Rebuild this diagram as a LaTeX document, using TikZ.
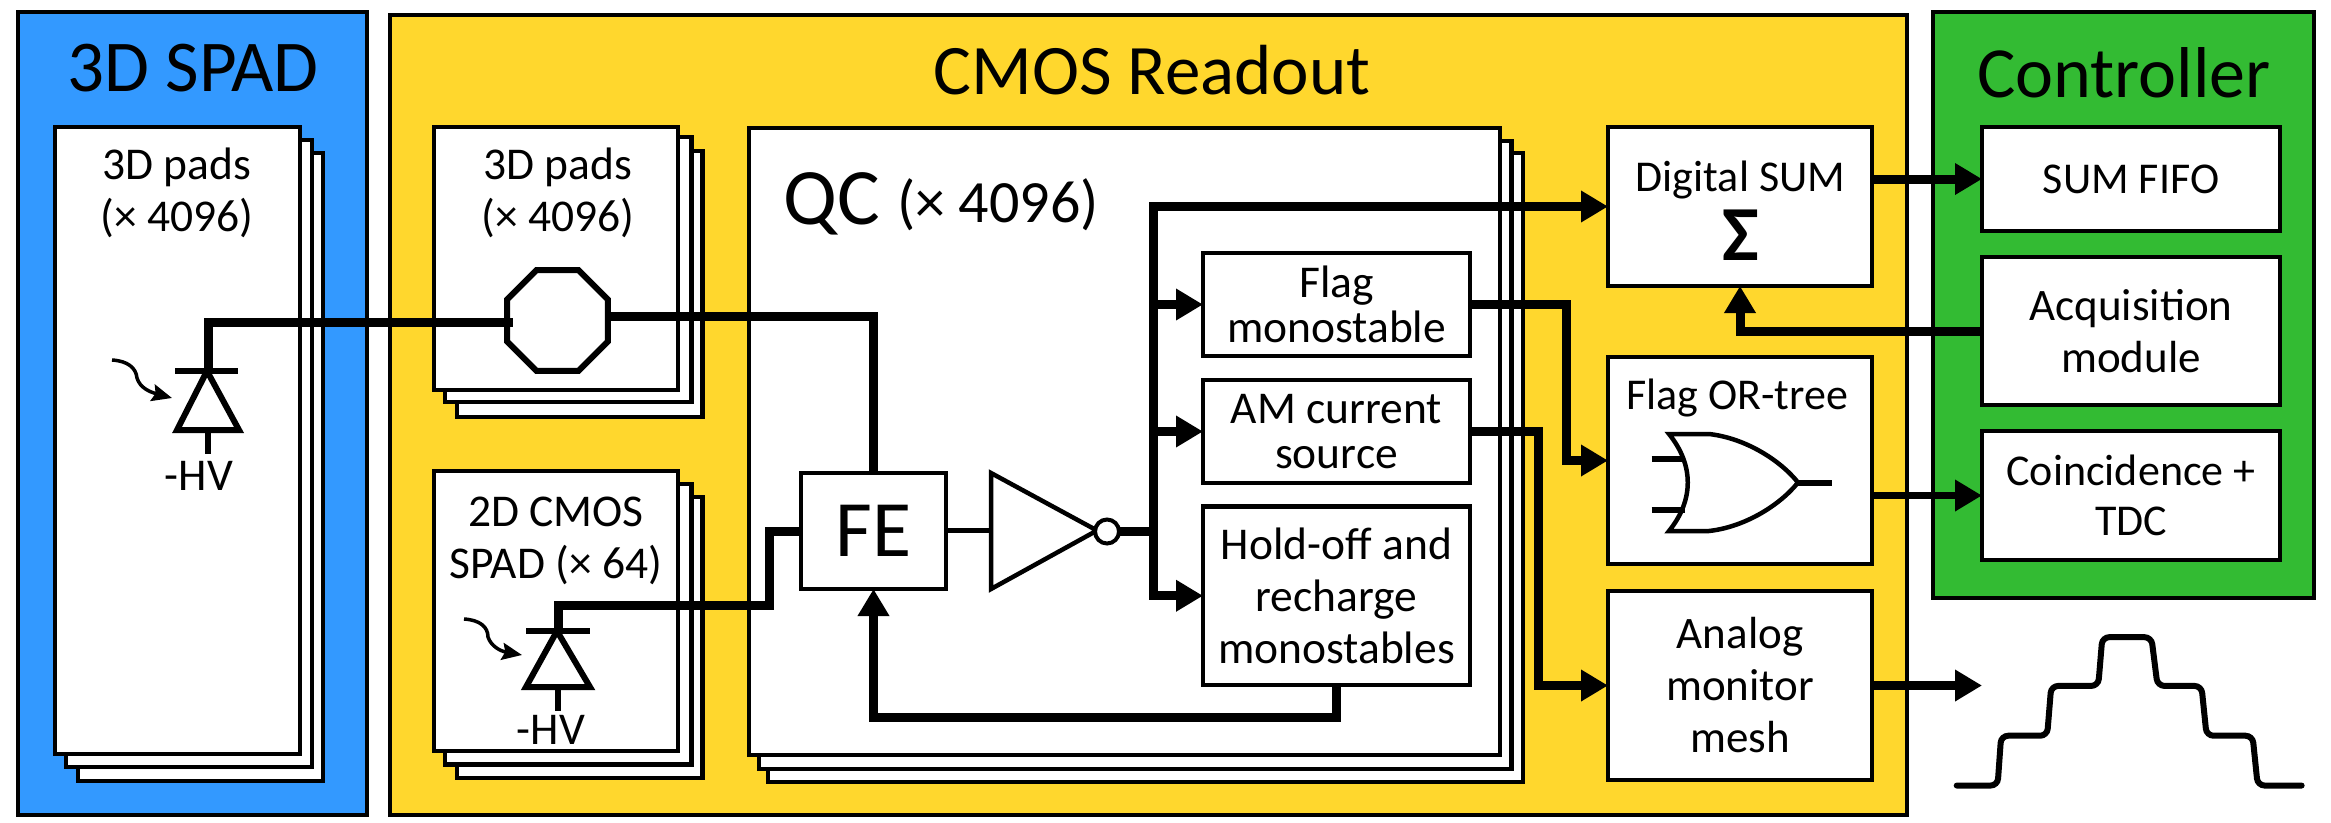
\documentclass[tikz,border=0pt]{standalone}
\usepackage{fontspec}
\setmainfont{Carlito}
\usetikzlibrary{arrows.meta,shapes.geometric,calc}
\definecolor{bluep}{HTML}{3399FF}
\definecolor{yellowp}{HTML}{FFD72D}
\definecolor{greenp}{HTML}{33BB33}
\tikzset{
  panel/.style={draw=black,line width=4pt,inner sep=0,outer sep=0},
  box/.style={draw=black,fill=white,line width=4.5pt,inner sep=0,outer sep=0,align=center,
    font=\fontsize{45}{52}\selectfont},
  tight/.style={font=\fontsize{45.5}{45}\selectfont},
  title/.style={inner sep=0,font=\fontsize{71}{74}\selectfont},
  lab/.style={inner sep=0,align=center,font=\fontsize{45.5}{52}\selectfont},
  wire/.style={draw=black,line width=9pt},
  thin wire/.style={draw=black,line width=7.5pt},
  arw/.style={wire,-{Triangle[length=27pt,width=30pt]}},
  shape line/.style={draw=black,line width=6pt},
  logic/.style={draw=black,line width=4.5pt},
  photon/.style={draw=black,line width=3.5pt,-{Stealth[length=20pt,width=17pt,inset=3pt]}},
}
\newcommand\rectnode[6][]{\node[box,#1,minimum width={#5-#3},minimum height={#6-#4}] (#2) at ({(#3+#5)/2},{(#4+#6)/2}) {};}
\newcommand\textbox[7][]{\node[box,#1,minimum width={#5-#3},minimum height={#6-#4}] (#2) at ({(#3+#5)/2},{(#4+#6)/2}) {#7};}
\begin{document}
\begin{tikzpicture}[x=1pt,y=-1pt]
\useasboundingbox (0,0) rectangle (2331,822);
% panels
\node[panel,fill=bluep,minimum width=349,minimum height=803.5] (spad) at (192.5,413.5) {};
\node[panel,fill=yellowp,minimum width=1517,minimum height=800] (cmos) at (1148.5,415) {};
\node[panel,fill=greenp,minimum width=381,minimum height=586.5] (ctrl) at (2123.5,305) {};
\node[title,font=\fontsize{73}{74}\selectfont] (tspad) at (193,68) {3D SPAD};
\node[title] (tcmos) at (1152,70) {CMOS Readout};
\node[title,font=\fontsize{72}{74}\selectfont] (tctrl) at (2124,73) {Controller};
% stacks
\rectnode{sc}{78}{153}{323}{781}
\rectnode{sb}{66}{140}{312}{767}
\rectnode{sa}{55}{127}{300}{754}
\rectnode{pc}{457}{151}{702.5}{417}
\rectnode{pb}{445}{137}{691.5}{402}
\rectnode{pa}{434}{127}{678}{390}
\rectnode{dc}{457}{497}{702.5}{778}
\rectnode{db}{445}{484}{691.5}{764.5}
\rectnode{da}{434}{471}{678}{751}
\rectnode{qc}{768}{153}{1523}{782}
\rectnode{qb}{759}{141}{1511.5}{769}
\rectnode{qa}{749}{128}{1500}{755}
\node[lab] (lsa) at (177,193) {3D pads\\(× 4096)};
\node[lab] (lpa) at (558,193) {3D pads\\(× 4096)};
\node[lab] (lda) at (556,541) {2D CMOS\\SPAD (× 64)};
\node[inner sep=0,anchor=base west,font=\fontsize{80}{82}\selectfont] (lqc) at (783,224) {QC};
\node[inner sep=0,anchor=base west,font=\fontsize{60}{62}\selectfont] (lqn) at (897,222) {(× 4096)};
% QC blocks
\textbox[font=\fontsize{80}{82}\selectfont]{fe}{801}{473}{946}{589}{FE}
\textbox[tight]{flag}{1203}{253}{1470}{356}{Flag\\monostable}
\textbox[tight]{am}{1203}{380}{1470}{483}{AM current\\source}
\textbox[font=\fontsize{45.5}{52}\selectfont]{hold}{1203}{506.5}{1470}{685}{Hold-off and\\recharge\\monostables}
% right blocks
\rectnode{dig}{1608}{127}{1872}{286}
\node[lab,font=\fontsize{44}{52}\selectfont] (ldig) at (1740.5,180) {Digital SUM};
\node[lab,font=\bfseries\fontsize{78}{80}\selectfont] (lsig) at (1740.5,235) {Σ};
\rectnode{orb}{1608}{357}{1872}{564}
\node[lab,font=\fontsize{44}{52}\selectfont] (lor) at (1737,398) {Flag OR-tree};
\textbox{ana}{1608}{591}{1872}{780}{Analog\\monitor\\mesh}
\textbox[font=\fontsize{44}{52}\selectfont]{fifo}{1982}{127}{2280}{231}{SUM FIFO}
\textbox{acq}{1982}{257}{2280}{405}{Acquisition\\module}
\textbox[font=\fontsize{44}{50}\selectfont]{coin}{1982}{431}{2280}{560}{Coincidence +\\TDC}
% octagon
\node[regular polygon,regular polygon sides=8,minimum size=109.3,draw=black,fill=white,line width=6pt,inner sep=0,outer sep=0] (oct) at (557.5,320.5) {};
% inverter
\coordinate (invin) at (991,530.5);
\draw[logic,fill=white] (991,473) -- (1097,530.5) -- (991,589) -- cycle;
\node[circle,draw=black,fill=white,line width=4pt,minimum size=24,inner sep=0,outer sep=0] (bub) at (1107,531.5) {};
\draw[logic] (fe.east |- invin) -- (invin);
% coordinates
\coordinate (d1a) at (208,371);
\coordinate (d2a) at (558,631);
\coordinate (padin) at (513,322.5);
\coordinate (padout) at (611,316);
\coordinate (d2j) at (769,605);
\coordinate (bus) at (1153,531.5);
\coordinate (fbk) at (0,717);
\coordinate (xf) at (1566,460.5);
\coordinate (xa) at (1538,685.5);
\coordinate (wave) at (1982,685.5);
% diodes
\draw[shape line] (175,371) -- (238,371);
\draw[shape line] (207,371) -- (239,430) -- (177,430) -- cycle;
\draw[shape line] (208,430) -- (208,453.5);
\node[lab] (hv1) at (199,476) {-HV};
\draw[photon] (112,360) .. controls (128,361) and (136,368) .. (137,378) .. controls (140,388) and (150,392) .. (172,398);
\draw[shape line] (526,631) -- (590,631);
\draw[shape line] (557,631) -- (590,687) -- (526,687) -- cycle;
\draw[shape line] (558,687) -- (558,710.5);
\node[lab] (hv2) at (551,730) {-HV};
\draw[photon] (464,619) .. controls (480,620) and (488,627) .. (488,637) .. controls (491,646) and (500,651) .. (522,655);
% wires
\draw[wire] (d1a) |- (padin);
\draw[wire] (padout) -| (fe.north);
\draw[wire] (d2a) |- (d2j) |- (fe.west);
\draw[wire] (bub.east) -- (bus);
\draw[arw] (bus) |- (dig.west);
\draw[arw] (bus) |- (flag.west);
\draw[arw] (bus) |- (am.west);
\draw[arw] (bus) |- (hold.west);
\draw[arw] (hold.south) -- (hold.south |- fbk) -| (fe.south);
\draw[arw] (flag.east) -| (xf) -- (orb.west);
\draw[arw] (am.east) -| (xa) -- (ana.west);
\draw[arw] (dig.east |- fifo.west) -- (fifo.west);
\draw[arw,thin wire] (orb.east |- coin.west) -- (coin.west);
\draw[arw] (ana.east) -- (wave);
\draw[arw] (acq.west) -| (dig.south);
% OR gate
\draw[logic,fill=white] (1669,434) -- (1709,434) .. controls (1745,438) and (1780,460) .. (1798,482.5) .. controls (1780,505) and (1745,527) .. (1709,531) -- (1669,531) .. controls (1694,500) and (1694,465) .. cycle;
\draw[shape line] (1651.5,459) -- (1685,459);
\draw[shape line] (1651.5,510) -- (1685,510);
\draw[shape line] (1798,482.5) -- (1831.5,482.5);
% waveform
\begin{scope}[shift={(1530,0)},x=0.511pt,y=-0.5244pt]
\draw[draw=black,line width=6pt,line cap=round,rounded corners=7pt] (835,1498) -- (915,1498) -- (922,1403) -- (1012,1403) -- (1020,1308) -- (1112,1308) -- (1120,1215) -- (1216,1215) -- (1228,1308) -- (1314,1308) -- (1324,1403) -- (1414,1403) -- (1424,1498) -- (1510,1498);
\end{scope}
\end{tikzpicture}
\end{document}
